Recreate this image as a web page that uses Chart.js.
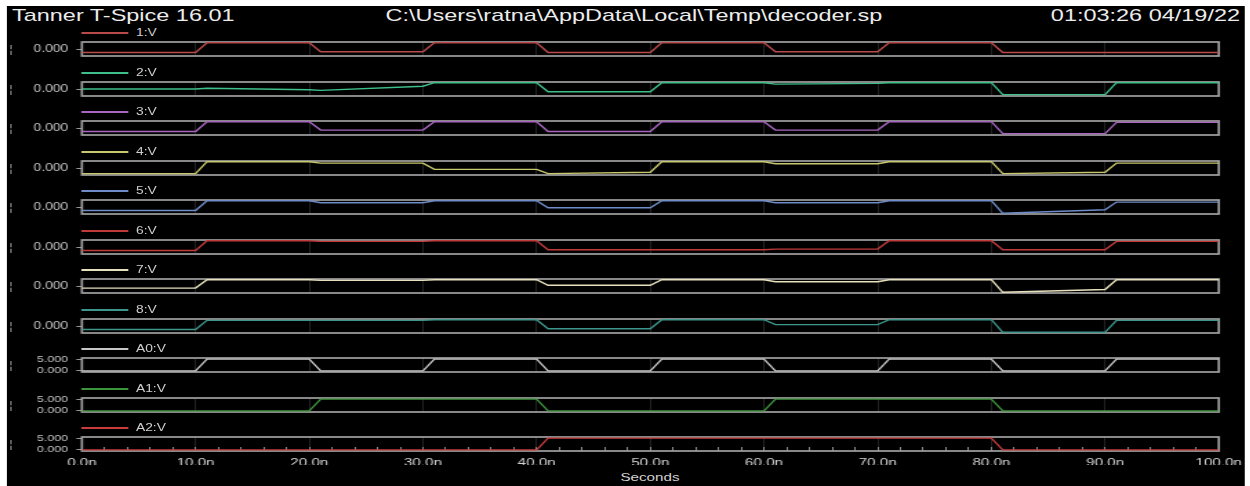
<!DOCTYPE html>
<html>
<head>
<meta charset="utf-8">
<script src="https://cdn.jsdelivr.net/npm/chart.js@4.4.1/dist/chart.umd.min.js"></script>
<style>
  html, body { margin: 0; background: #fff; overflow: hidden; }
  #wrap { position: absolute; left: 0; top: 0; height: 486px; transform-origin: 0 0;
          font-family: "Liberation Sans", Arial, sans-serif; color: #e6e6e6; filter: blur(0.45px); }
  #screen { position: absolute; background: #000; }
  .txt { position: absolute; white-space: nowrap; line-height: 1; }
  .lg { position: absolute; height: 2px; }
  canvas { position: absolute; }
</style>
</head>
<body>
<div id="wrap"><div id="screen"></div></div>
<script>
// time points (ns) shared by every trace: edges every 10 ns with 1 ns ramps
var tNs = [0, 10, 11, 20, 21, 30, 31, 40, 41, 50, 51, 60, 61, 70, 71, 80, 81, 90, 91, 100];

var names = ['1:V', '2:V', '3:V', '4:V', '5:V', '6:V', '7:V', '8:V', 'A0:V', 'A1:V', 'A2:V'];
var colors = ['#b84a4a', '#3fbf8a', '#a866c0', '#c8c86e', '#6e8cc8', '#c03a3a',
              '#e6e0bc', '#3c968c', '#c8c8c8', '#3c963c', '#c83c3c'];

// decoder outputs (V, millivolt level)
var out1 = [-0.0005, -0.0005, 0.0009, 0.0009, -0.0004, -0.0004, 0.0009, 0.0009, -0.0005, -0.0005,
            0.0009, 0.0009, -0.0004, -0.0004, 0.0009, 0.0009, -0.0005, -0.0005, -0.0005, -0.0005];
var out2 = [0.0000, 0.0000, 0.0001, -0.0001, -0.0002, 0.0004, 0.0009, 0.0009, -0.0004, -0.0004,
            0.0009, 0.0009, 0.0007, 0.0008, 0.0009, 0.0009, -0.0008, -0.0008, 0.0009, 0.0009];
var out3 = [-0.0005, -0.0005, 0.0009, 0.0009, -0.0003, -0.0003, 0.0009, 0.0009, -0.0005, -0.0005,
            0.0009, 0.0009, -0.0003, -0.0003, 0.0009, 0.0009, -0.0008, -0.0008, 0.0008, 0.0008];
var out4 = [-0.0008, -0.0008, 0.0009, 0.0009, 0.0007, 0.0007, -0.0002, -0.0002, -0.0008, -0.0006,
            0.0009, 0.0009, 0.0006, 0.0006, 0.0009, 0.0009, -0.0008, -0.0006, 0.0007, 0.0007];
var out5 = [-0.0005, -0.0005, 0.0009, 0.0009, 0.0006, 0.0006, 0.0009, 0.0009, -0.0001, -0.0001,
            0.0009, 0.0009, 0.0006, 0.0006, 0.0009, 0.0009, -0.0009, -0.0004, 0.0007, 0.0007];
var out6 = [-0.0005, -0.0005, 0.0009, 0.0009, 0.0008, 0.0008, 0.0009, 0.0009, -0.0004, -0.0004,
            -0.0004, -0.0004, -0.0003, -0.0003, 0.0009, 0.0009, -0.0004, -0.0004, 0.0008, 0.0008];
var out7 = [-0.0003, -0.0003, 0.0009, 0.0009, 0.0008, 0.0008, 0.0009, 0.0009, 0.0001, 0.0001,
            0.0009, 0.0009, 0.0006, 0.0006, 0.0009, 0.0009, -0.0009, -0.0005, 0.0009, 0.0009];
var out8 = [-0.0005, -0.0005, 0.0008, 0.0008, 0.0008, 0.0008, 0.0009, 0.0009, -0.0004, -0.0004,
            0.0009, 0.0009, 0.0002, 0.0002, 0.0009, 0.0009, -0.0009, -0.0009, 0.0008, 0.0008];
// address inputs (V)
var inA0 = [0, 0, 5, 5, 0, 0, 5, 5, 0, 0, 5, 5, 0, 0, 5, 5, 0, 0, 5, 5];
var inA1 = [0, 0, 0, 0, 5, 5, 5, 5, 0, 0, 0, 0, 5, 5, 5, 5, 0, 0, 0, 0];
var inA2 = [0, 0, 0, 0, 0, 0, 0, 0, 5, 5, 5, 5, 5, 5, 5, 5, 0, 0, 0, 0];

var traces = [out1, out2, out3, out4, out5, out6, out7, out8, inA0, inA1, inA2];

var yTicksOut = [0];
var yTicksIn = [0, 5];
var xLabels = ['0.0n', '10.0n', '20.0n', '30.0n', '40.0n', '50.0n', '60.0n', '70.0n', '80.0n', '90.0n', '100.0n'];

// the screenshot is stretched horizontally, so lay out narrow and scale x
var S = 1.38;
var wrap = document.getElementById('wrap');
wrap.style.width = (1250 / S) + 'px';
wrap.style.transform = 'scaleX(' + S + ')';

function px(x) { return (x / S) + 'px'; }

var screen = document.getElementById('screen');
screen.style.left = px(7);
screen.style.top = '6px';
screen.style.width = px(1245 - 7);
screen.style.height = '480px';

function addText(str, x, y, size, color, align) {
  var d = document.createElement('div');
  d.className = 'txt';
  d.textContent = str;
  d.style.fontSize = size + 'px';
  d.style.color = color;
  d.style.top = (y - size / 2) + 'px';
  if (align === 'right') {
    d.style.right = px(1250 - x);
  } else if (align === 'center') {
    d.style.left = px(x);
    d.style.transform = 'translateX(-50%)';
  } else {
    d.style.left = px(x);
  }
  wrap.appendChild(d);
}

addText('Tanner T-Spice 16.01', 12, 15, 17, '#ececec');
addText('C:\\Users\\ratna\\AppData\\Local\\Temp\\decoder.sp', 634, 15, 17, '#ececec', 'center');
addText('01:03:26 04/19/22', 1240, 15, 17, '#ececec', 'right');
addText('Seconds', 650, 477, 11, '#d4d4d4', 'center');

Chart.defaults.font.family = '"Liberation Sans", Arial, sans-serif';

var boxPlugin = {
  id: 'panelBox',
  beforeDatasetsDraw: function (chart) {
    var a = chart.chartArea, c = chart.ctx;
    c.save();
    c.strokeStyle = '#a0a0a0';
    c.lineWidth = 1.7;
    c.strokeRect(a.left, a.top, a.right - a.left, a.bottom - a.top);
    c.restore();
  }
};

function boxTop(i) { return Math.round(42 + 39.5 * i); }

function makePanel(i) {
  var last = i === names.length - 1;
  var isInput = i >= 8;
  var top = boxTop(i);

  // legend line + name
  var lg = document.createElement('div');
  lg.className = 'lg';
  lg.style.left = px(82);
  lg.style.width = px(46);
  lg.style.top = (top - 10) + 'px';
  lg.style.background = colors[i];
  wrap.appendChild(lg);
  addText(names[i], 136, top - 9, 10, '#cfcfcf');
  addText('\u00a6', 9, top + 7, 11, '#8c8c8c');

  // box is 14px tall; last panel keeps 28px of layout room so the x axis gets 14 and labels hang below
  var cv = document.createElement('canvas');
  cv.width = 1238 / S;
  cv.height = last ? 47 : 40;
  cv.style.left = px(7);
  cv.style.top = (top - 13) + 'px';
  wrap.appendChild(cv);

  var xScale = {
    type: 'linear', min: 0, max: 100,
    ticks: { display: false, stepSize: 10 },
    grid: { drawTicks: false, color: '#222' },
    border: { display: false }
  };
  if (last) {
    xScale = {
      type: 'linear', min: 0, max: 100,
      afterFit: function (s) { s.paddingLeft = 0; s.paddingRight = 0; },
      ticks: {
        stepSize: 2, autoSkip: false, maxRotation: 0, padding: 9.4,
        color: '#d4d4d4', font: { size: 11 },
        callback: function (v) { return v % 10 === 0 ? xLabels[v / 10] : ''; }
      },
      grid: {
        tickLength: -4, tickColor: '#8a8a8a',
        color: function (ctx) { return ctx.tick && ctx.tick.value % 10 === 0 ? '#222' : 'rgba(0,0,0,0)'; }
      },
      border: { display: false }
    };
  }

  new Chart(cv, {
    type: 'line',
    data: {
      datasets: [{
        label: names[i],
        data: tNs.map(function (t, k) { return { x: t, y: traces[i][k] }; }),
        borderColor: colors[i],
        borderWidth: 1.4,
        pointRadius: 0,
        tension: 0
      }]
    },
    options: {
      responsive: false,
      animation: false,
      events: [],
      layout: { padding: { top: 13, bottom: last ? 6 : 13, left: 0, right: 26 / S } },
      plugins: { legend: { display: false }, tooltip: { enabled: false } },
      scales: {
        x: xScale,
        y: {
          min: isInput ? -0.5 : -0.001,
          max: isInput ? 5.5 : 0.001,
          afterBuildTicks: function (s) {
            s.ticks = (isInput ? yTicksIn : yTicksOut).map(function (v) { return { value: v }; });
          },
          afterFit: function (s) { s.width = 75 / S; },
          ticks: {
            autoSkip: false, padding: 6, color: '#c4c4c4', font: { size: isInput ? 9 : 10 },
            callback: function (v) { return v.toFixed(3); }
          },
          grid: { drawOnChartArea: false, tickLength: 4, color: '#9a9a9a' },
          border: { display: false }
        }
      }
    },
    plugins: [boxPlugin]
  });
}

for (var i = 0; i < names.length; i++) makePanel(i);
</script>
</body>
</html>
